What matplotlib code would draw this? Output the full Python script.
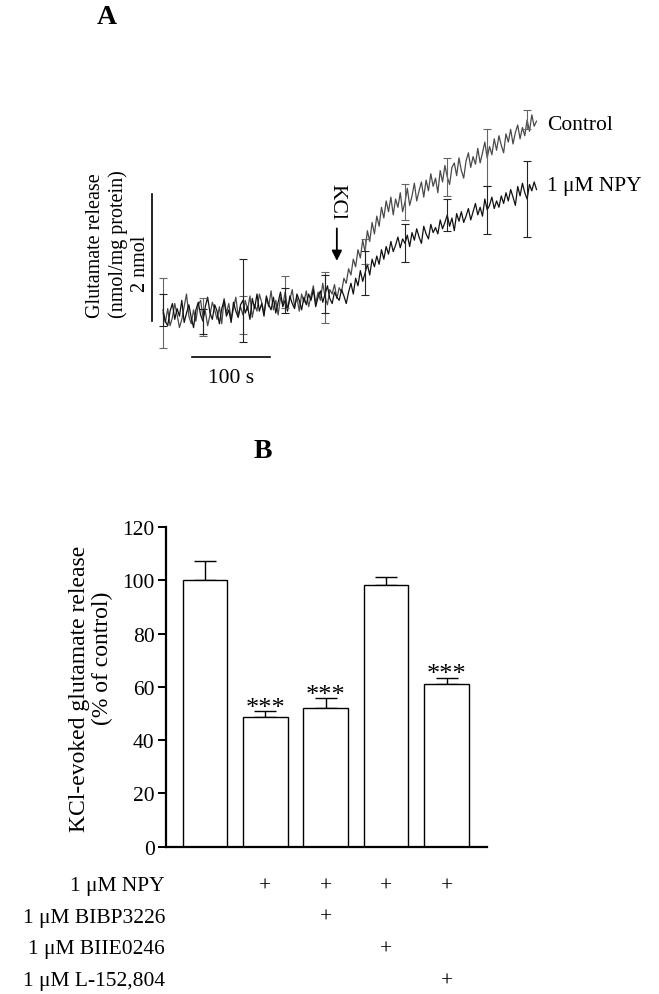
import numpy as np
import matplotlib
matplotlib.use("Agg")
import matplotlib.pyplot as plt
import matplotlib.transforms as mtransforms

plt.rcParams['font.family'] = ['Liberation Serif', 'DejaVu Serif']

# ---- Panel A data: glutamate traces, one sample every 3 s (nmol/mg protein)
step_s = 3
control = [0.25, 0.10, 0.32, 0.05, 0.18, 0.40, 0.22, 0.02, 0.15, 0.35, 0.55, 0.20, 0.08, 0.30,
           0.12, 0.38, 0.45, 0.18, 0.28, 0.05, 0.22, 0.42, 0.30, 0.15, 0.35, 0.08, 0.48, 0.25,
           0.40, 0.15, 0.32, 0.50, 0.20, 0.35,
           0.22, 0.45, 0.30, 0.52, 0.18, 0.38, 0.28, 0.55, 0.42, 0.25, 0.48, 0.35, 0.60, 0.30,
           0.45, 0.22, 0.50, 0.38, 0.58, 0.32, 0.46, 0.62, 0.35, 0.50, 0.28, 0.55, 0.42,
           0.60, 0.35, 0.52, 0.68, 0.40, 0.58, 0.45, 0.72, 0.50, 0.38, 0.62, 0.55, 0.70, 0.48,
           0.65, 0.58, 0.80, 0.72, 0.95,
           0.85, 1.10, 0.98, 1.25, 1.12, 1.40, 1.22, 1.55, 1.38, 1.68, 1.50,
           1.78, 1.62, 1.92, 1.75, 2.02, 1.85, 2.08,
           1.80, 2.05, 1.92, 2.15, 1.85, 2.00, 2.22, 1.95, 2.10, 2.30, 2.02, 2.18, 2.32,
           2.08, 2.35, 2.18, 2.45, 2.25, 2.38, 2.15, 2.50, 2.32, 2.58, 2.40, 2.28, 2.55, 2.62,
           2.42, 2.70, 2.50, 2.38, 2.65, 2.78, 2.55, 2.72, 2.60,
           2.85, 2.62, 2.78, 2.95, 2.70, 2.88, 2.75, 3.00, 2.82, 3.05, 2.90, 2.78, 3.08, 2.95,
           3.15, 2.92, 3.10, 3.22, 3.00, 3.18, 3.05, 3.30, 3.12, 3.38, 3.20, 3.28]
npy = [0.30, 0.12, 0.05, 0.28, 0.40, 0.15, 0.32, 0.20, 0.45, 0.10, 0.25, 0.38, 0.18, 0.02,
       0.30, 0.42, 0.22, 0.12, 0.35, 0.50, 0.25, 0.15, 0.38, 0.28, 0.08, 0.32, 0.45, 0.20,
       0.30, 0.10, 0.42, 0.28, 0.18, 0.38,
       0.45, 0.25, 0.35, 0.15, 0.48, 0.32, 0.55, 0.28, 0.40, 0.20, 0.52, 0.38, 0.30, 0.50,
       0.25, 0.42, 0.58, 0.35, 0.45, 0.28, 0.52, 0.40, 0.32, 0.55, 0.45, 0.30, 0.50,
       0.38, 0.55, 0.45, 0.62, 0.35, 0.50, 0.60, 0.42, 0.55, 0.68, 0.48, 0.40, 0.58, 0.50,
       0.45, 0.62, 0.52, 0.40, 0.58, 0.72, 0.55, 0.80, 0.68, 0.92, 0.75, 0.88, 1.02, 0.85,
       1.10, 0.98,
       1.15, 1.02, 1.25, 1.10, 1.30, 1.18, 1.38, 1.22, 1.32, 1.45, 1.28, 1.42, 1.35,
       1.48, 1.30, 1.52, 1.40, 1.58, 1.45, 1.35, 1.62, 1.50, 1.42, 1.65, 1.52, 1.60,
       1.50, 1.72, 1.58, 1.68, 1.80, 1.62, 1.75, 1.55, 1.82, 1.70, 1.85, 1.68, 1.78,
       1.90, 1.72, 1.85, 1.98, 1.80, 1.92, 1.78, 2.05, 1.88, 1.95, 2.08, 1.90, 2.02,
       1.92, 2.10, 1.98, 2.15, 2.02, 2.20, 2.08, 1.95, 2.25, 2.10, 2.30, 2.15, 2.05, 2.28,
       2.18, 2.32, 2.20]

# error bars on the traces: sample index and SEM (nmol)
err_idx = [0, 17, 34, 52, 69, 86, 103, 121, 138, 155]
control_sem = [0.55, 0.30, 0.30, 0.25, 0.40, 0.20, 0.28, 0.30, 0.45, 0.15]
npy_sem = [0.25, 0.20, 0.65, 0.20, 0.30, 0.35, 0.30, 0.25, 0.38, 0.60]
kcl_time = 222

# ---- Panel B data
bar_values = [100, 48.7, 52.1, 98.4, 61.2]
bar_errors = [7.1, 2.1, 3.6, 2.9, 2.2]
bar_stars = ['', '***', '***', '', '***']
treatments = ['1 μM NPY', '1 μM BIBP3226', '1 μM BIIE0246', '1 μM L-152,804']
treatment_table = [[0, 1, 1, 1, 1],
                   [0, 0, 1, 0, 0],
                   [0, 0, 0, 1, 0],
                   [0, 0, 0, 0, 1]]

W, H = 659, 995
fig = plt.figure(figsize=(W / 100, H / 100), dpi=100)


def px_axes(left, top, right, bottom):
    return fig.add_axes([left / W, 1 - bottom / H, (right - left) / W, (bottom - top) / H])


fs = 15.5

# ---------------- Panel A
axA = px_axes(140, 100, 560, 390)
axA.set_xlim(-29.4, 507)
axA.set_ylim(-0.95, 3.63)
axA.axis('off')

t = np.arange(len(control)) * step_s
t2 = np.arange(len(npy)) * step_s
axA.plot(t, control, color='#4a4a4a', lw=0.9)
axA.plot(t2, npy, color='#111111', lw=0.9)

c_arr = np.array(control)
n_arr = np.array(npy)
axA.errorbar(t[err_idx], c_arr[err_idx], yerr=control_sem, fmt='none',
             ecolor='#666666', elinewidth=0.8, capsize=3, capthick=0.8)
axA.errorbar(t2[err_idx], n_arr[err_idx], yerr=npy_sem, fmt='none',
             ecolor='#222222', elinewidth=0.8, capsize=3, capthick=0.8)

# scale bars
axA.plot([-14, -14], [0.13, 2.13], color='black', lw=1.2, clip_on=False)
axA.plot([36.7, 136.7], [-0.44, -0.44], color='black', lw=1.2, clip_on=False)
axA.text(86.7, -0.62, '100 s', ha='center', va='top', fontsize=fs)
axA.text(-29, 1.05, '2 nmol', rotation=90, ha='center', va='center', fontsize=14.5, clip_on=False)
fig.text(95 / W, 1 - 246 / H, 'Glutamate release', rotation=90, ha='center', va='center', fontsize=14.5)
fig.text(118 / W, 1 - 244 / H, '(nmol/mg protein)', rotation=90, ha='center', va='center', fontsize=14.5)

# KCl arrow
axA.annotate('', xy=(kcl_time, 1.03), xytext=(kcl_time, 1.63),
             arrowprops=dict(arrowstyle='-|>', color='black', lw=1.3, mutation_scale=15))
axA.text(kcl_time, 2.02, 'KCl', rotation=-90, ha='center', va='center', fontsize=fs)

axA.text(491, 3.22, 'Control', ha='left', va='center', fontsize=fs)
axA.text(491, 2.26, '1 μM NPY', ha='left', va='center', fontsize=fs)

fig.text(107 / W, 1 - 17 / H, 'A', ha='center', va='center', fontsize=20, fontweight='bold')
fig.text(263 / W, 1 - 452 / H, 'B', ha='center', va='center', fontsize=20, fontweight='bold')

# ---------------- Panel B
axB = px_axes(165.7, 528, 487, 847.7)
x = np.arange(len(bar_values))
axB.bar(x, bar_values, width=0.737, color='white', edgecolor='black', linewidth=1.0, zorder=2)
axB.errorbar(x, bar_values, yerr=[np.zeros(len(bar_errors)), bar_errors], fmt='none',
             ecolor='black', elinewidth=1.0, capsize=8, capthick=1.0, zorder=1)
for xi, v, e, s in zip(x, bar_values, bar_errors, bar_stars):
    if s:
        axB.text(xi, v + e - 0.9, s, ha='center', va='baseline', fontsize=19)

axB.set_xlim(-0.65, 4.67)
axB.set_ylim(0, 120)
axB.set_yticks(np.arange(0, 121, 20))
axB.set_xticks([])
axB.spines['top'].set_visible(False)
axB.spines['right'].set_visible(False)
axB.spines['left'].set_linewidth(1.6)
axB.spines['bottom'].set_linewidth(1.6)
axB.tick_params(axis='y', direction='out', length=6, width=1.4, labelsize=fs, pad=2)

fig.text(80 / W, 1 - 689 / H, 'KCl-evoked glutamate release', rotation=90,
         ha='center', va='center', fontsize=17)
fig.text(102 / W, 1 - 658 / H, '(% of control)', rotation=90,
         ha='center', va='center', fontsize=17)

# treatment table under the bars
blend = mtransforms.blended_transform_factory(axB.transData, fig.transFigure)
row_y = [886.7, 918.3, 950, 981.7]
for name, flags, ry in zip(treatments, treatment_table, row_y):
    fig.text(165 / W, 1 - ry / H, name, ha='right', va='center', fontsize=fs)
    for xi, f in zip(x, flags):
        if f:
            axB.text(xi, 1 - ry / H, '+', transform=blend, ha='center', va='center',
                     fontsize=fs, clip_on=False)

fig.savefig('out.png', dpi=100)
